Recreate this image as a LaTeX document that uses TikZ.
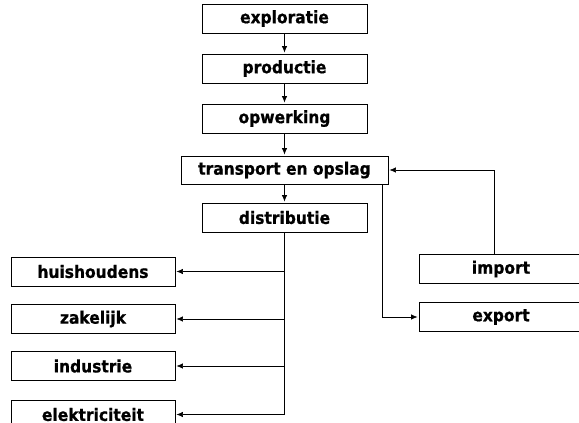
\documentclass[tikz,border=0pt]{standalone}
\usepackage{fontspec}
\newfontfamily\boxfont{DejaVu Sans}[FakeStretch=0.9,BoldFeatures={FakeBold=0.8}]
\usepackage{tikz}
\usetikzlibrary{arrows.meta}

\begin{document}
\begin{tikzpicture}[x=1pt,y=-1pt,shorten >=1pt]
	\tikzstyle{unit}=[draw,line width=0.9pt,shape=rectangle,inner sep=0pt,minimum height=29pt,font=\boxfont\bfseries\fontsize{17.2}{19}\selectfont]
	\tikzstyle{chain}=[unit,minimum width=165pt]
	\tikzstyle{side}=[unit,minimum width=164pt]
	\tikzstyle{link}=[line width=0.7pt,-{Latex[length=6.5pt,width=5.5pt]}]
	\clip (0,0) rectangle (579,423);

	\node[chain](expl) at (284.5,18.5){exploratie};
	\node[chain](prod) at (284.5,68.5){productie};
	\node[chain](opw) at (284.5,118.5){opwerking};
	\node[unit,minimum width=207pt,minimum height=28pt](transp) at (284.5,170){transport en opslag};
	\node[chain](distr) at (284.5,217.5){distributie};

	\node[side](huis) at (93,271.5){huishoudens};
	\node[side](zak) at (93,319){zakelijk};
	\node[side](ind) at (93,366){industrie};
	\node[side](elek) at (93,414.5){elektriciteit};

	\node[side](imp) at (501,269){import};
	\node[side](exp) at (501,317){export};

	\draw[link] (expl) -- (prod);
	\draw[link] (prod) -- (opw);
	\draw[link] (opw) -- (transp);
	\draw[link] (transp) -- (distr);

	\draw[link] (distr.south) |- (huis.east);
	\draw[link] (distr.south) |- (zak.east);
	\draw[link] (distr.south) |- (ind.east);
	\draw[link] (distr.south) |- (elek.east);

	\draw[link] ([xshift=-7pt]imp.north) |- (transp.east);
	\draw[link] ([xshift=-6.5pt]transp.south east) |- (exp.west);

\end{tikzpicture}
\end{document}
